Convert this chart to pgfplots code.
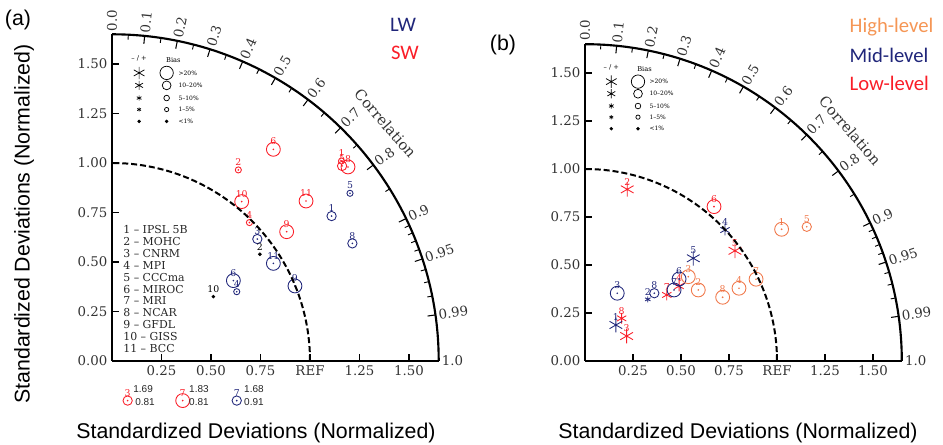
\documentclass[border=0pt]{standalone}
\usepackage{pgfplots}
\pgfplotsset{compat=1.18}
\usepackage{fontspec}
\setmainfont{DejaVu Serif}
\newfontfamily\lsans{Liberation Sans}
\newfontfamily\carl{Carlito}
\definecolor{navy}{RGB}{32,38,122}
\definecolor{myred}{RGB}{250,30,40}
\definecolor{myor}{RGB}{240,118,72}
\definecolor{ortext}{RGB}{245,150,85}

\pgfdeclareplotmark{odot}{%
  \pgfpathcircle{\pgfpointorigin}{\pgfplotmarksize}\pgfusepathqstroke
  \pgfpathcircle{\pgfpointorigin}{0.7pt}\pgfusepathqfill}

\pgfplotsset{
  td/.style={only marks, forget plot, mark options={solid, line width=0.65pt},
    nodes near coords, point meta=explicit symbolic,
    every node near coord/.append style={font=\fontsize{7}{8}\selectfont, anchor=center, yshift=5.8pt, inner sep=0pt}},
  cbig/.style={mark=odot, mark size=5.2pt},
  cmed/.style={mark=odot, mark size=3.5pt},
  csml/.style={mark=odot, mark size=2.3pt},
  cdot/.style={mark=*, mark size=1pt},
  abig/.style={mark=asterisk, mark size=5.5pt},
  amed/.style={mark=asterisk, mark size=4pt},
  asml/.style={mark=asterisk, mark size=2.3pt},
  lg/.style={only marks, forget plot, black, mark options={solid, line width=0.55pt}},
  tdaxis/.style={
    anchor=south west, xmin=0,xmax=1.65,ymin=0,ymax=1.65,
    axis lines*=left, axis line style={line width=1.4pt},
    clip=false, tick align=inside, major tick length=5pt,
    tick style={line width=0.8pt, black},
    xtick={0.25,0.5,0.75,1,1.25,1.5},
    xticklabels={0.25,0.50,0.75,REF,1.25,1.50},
    ytick={0,0.25,0.5,0.75,1,1.25,1.5},
    yticklabels={0.00,0.25,0.50,0.75,1.00,1.25,1.50},
    ticklabel style={font=\fontsize{10}{11}\selectfont, text=black!80},
  },
}

\newcommand\tdframe{%
  \draw[line width=1.6pt] (1.65,0) arc[start angle=0,end angle=90,radius=1.65];
  \draw[line width=1.5pt, dash pattern=on 4.5pt off 2.2pt] (1,0) arc[start angle=0,end angle=90,radius=1];
  \foreach \r in {0.1,0.2,0.3,0.4,0.5,0.6,0.7,0.8,0.9,0.95,0.99}
    \draw[line width=0.8pt] ({acos(\r)}:1.65) -- ({acos(\r)}:1.61);
  \foreach \r in {0.05,0.15,0.25,0.35,0.45,0.55,0.65,0.75,0.85,0.91,0.92,0.93,0.94,0.96,0.97,0.98}
    \draw[line width=0.7pt] ({acos(\r)}:1.65) -- ({acos(\r)}:1.625);
  \foreach \r in {0.0,0.1,0.2,0.3,0.4,0.5,0.6,0.7,0.8,0.9,0.95,0.99,1.0}
    \node[rotate={acos(\r)}, anchor=west, inner sep=1.5pt, font=\fontsize{10}{11}\selectfont, text=black!80] at ({acos(\r)}:1.655) {\r};
  \node[rotate=-49, font=\fontsize{11}{12}\selectfont, text=black!80] at (41:1.83) {Correlation};
  \node[font=\fontsize{5}{6}\selectfont] at (0.137,1.527) {-- / +};
  \node[font=\fontsize{5}{6}\selectfont] at (0.31,1.522) {Bias};
  \foreach \y/\t in {1.455/{>20\%},1.392/{10--20\%},1.328/{5--10\%},1.27/{1--5\%},1.21/{<1\%}}
    \node[anchor=west, font=\fontsize{4.5}{5}\selectfont, inner sep=0pt] at (0.335,\y) {\t};
}

\newcommand\legmarks{%
  \addplot[lg, mark=asterisk, mark size=4.6pt] coordinates {(0.137,1.455)};
  \addplot[lg, mark=asterisk, mark size=3.4pt] coordinates {(0.137,1.392)};
  \addplot[lg, mark=asterisk, mark size=2pt] coordinates {(0.137,1.328)};
  \addplot[lg, mark=asterisk, mark size=1.6pt] coordinates {(0.137,1.27)};
  \addplot[lg, mark=*, mark size=1pt] coordinates {(0.137,1.21)};
  \addplot[lg, mark=o, mark size=5pt] coordinates {(0.276,1.455)};
  \addplot[lg, mark=o, mark size=3.3pt] coordinates {(0.276,1.392)};
  \addplot[lg, mark=o, mark size=2.1pt] coordinates {(0.276,1.328)};
  \addplot[lg, mark=o, mark size=1.6pt] coordinates {(0.276,1.27)};
  \addplot[lg, mark=*, mark size=1pt] coordinates {(0.276,1.21)};
}

\begin{document}
\begin{tikzpicture}
\useasboundingbox (0,0) rectangle (707.25pt,333.75pt);

% ---------------- panel (a)
\begin{axis}[tdaxis, at={(84pt,63pt)}, x=148.5pt, y=148.5pt]
\legmarks
% SW (red)
\addplot[td, myred, cbig] coordinates {(0.815,1.069)[6] (1.192,0.980)[8] (0.655,0.805)[10] (0.980,0.808)[11] (0.882,0.653)[9] (0.357,-0.2)[7]};
\addplot[td, myred, cmed] coordinates {(1.162,0.985)[5] (0.079,-0.2)[3]};
\addplot[td, myred, csml] coordinates {(0.638,0.965)[2] (0.694,0.699)[4] (1.159,1.010)[1]};
% LW (navy)
\addplot[td, navy, cbig] coordinates {(0.815,0.493)[11] (0.924,0.379)[9] (0.613,0.406)[6]};
\addplot[td, navy, cmed] coordinates {(1.109,0.732)[1] (1.214,0.594)[8] (0.734,0.616)[3] (0.630,-0.2)[7]};
\addplot[td, navy, csml] coordinates {(1.202,0.847)[5] (0.630,0.350)[4]};
\addplot[td, black, cdot] coordinates {(0.747,0.539)[2] (0.512,0.325)[10]};
\end{axis}
\begin{scope}[shift={(84pt,63pt)}, x=148.5pt, y=148.5pt]
  \tdframe
  \foreach \i/\t in {0/{1 -- IPSL 5B},1/{2 -- MOHC},2/{3 -- CNRM},3/{4 -- MPI},4/{5 -- CCCma},5/{6 -- MIROC},6/{7 -- MRI},7/{8 -- NCAR},8/{9 -- GFDL},9/{10 -- GISS},10/{11 -- BCC}}
    \node[anchor=base west, inner sep=0pt, font=\fontsize{8.2}{9}\selectfont, text=black!85] at (0.056,{0.642-\i*0.0598}) {\t};
  \begin{scope}[font=\lsans\fontsize{7.5}{8}\selectfont, text=black!85]
    \node at (0.157,-0.141) {1.69}; \node at (0.167,-0.207) {0.81};
    \node at (0.439,-0.141) {1.83}; \node at (0.439,-0.207) {0.81};
    \node at (0.717,-0.141) {1.68}; \node at (0.717,-0.207) {0.91};
  \end{scope}
\end{scope}

% ---------------- panel (b)
\begin{axis}[tdaxis, at={(438.75pt,63pt)}, x=144pt, y=144pt]
\legmarks
% low-level (red)
\addplot[td, myred, abig] coordinates {(0.220,0.894)[2] (0.781,0.574)[5] (0.217,0.130)[3]};
\addplot[td, myred, amed] coordinates {(0.426,0.344)[7] (0.191,0.222)[8] (0.49,0.39)[4]};
\addplot[td, myred, cbig] coordinates {(0.672,0.804)[6]};
% mid-level (navy)
\addplot[td, navy, cbig] coordinates {(0.168,0.353)[3] (0.490,0.427)[6] (0.464,0.370)[7]};
\addplot[td, navy, cmed] coordinates {(0.361,0.353)[8]};
\addplot[td, navy, abig] coordinates {(0.161,0.1875)[1] (0.564,0.535)[5]};
\addplot[td, navy, amed] coordinates {(0.729,0.682)[4]};
\addplot[td, navy, asml] coordinates {(0.327,0.321)[2]};
% high-level (orange)
\addplot[td, myor, cbig] coordinates {(1.024,0.686)[1] (0.891,0.426)[7] (0.802,0.379)[4] (0.717,0.332)[8] (0.590,0.370)[2] (0.538,0.439)[3]};
\addplot[td, myor, cmed] coordinates {(1.155,0.699)[5]};
\end{axis}
\begin{scope}[shift={(438.75pt,63pt)}, x=144pt, y=144pt]
  \tdframe
\end{scope}

% ---------------- titles and labels
\node[font=\lsans\fontsize{16}{18}\selectfont] at (13.5pt,318.75pt) {(a)};
\node[font=\lsans\fontsize{16}{18}\selectfont] at (377.25pt,300pt) {(b)};
\node[font=\carl\fontsize{15.5}{17}\selectfont, text=navy] at (302.25pt,315pt) {LW};
\node[font=\carl\fontsize{15.5}{17}\selectfont, text=myred] at (303.75pt,294pt) {SW};
\node[anchor=west, font=\carl\fontsize{15.5}{17}\selectfont, text=ortext] at (633.75pt,313.5pt) {High-level};
\node[anchor=west, font=\carl\fontsize{15.5}{17}\selectfont, text=navy] at (633.75pt,292.5pt) {Mid-level};
\node[anchor=west, font=\carl\fontsize{15.5}{17}\selectfont, text=myred] at (633.75pt,271.5pt) {Low-level};
\node[font=\lsans\fontsize{16}{18}\selectfont] at (192pt,9pt) {Standardized Deviations (Normalized)};
\node[font=\lsans\fontsize{16}{18}\selectfont] at (553.5pt,9pt) {Standardized Deviations (Normalized)};
\node[rotate=90, font=\lsans\fontsize{16}{18}\selectfont] at (18pt,165.75pt) {Standardized Deviations (Normalized)};
\end{tikzpicture}
\end{document}
